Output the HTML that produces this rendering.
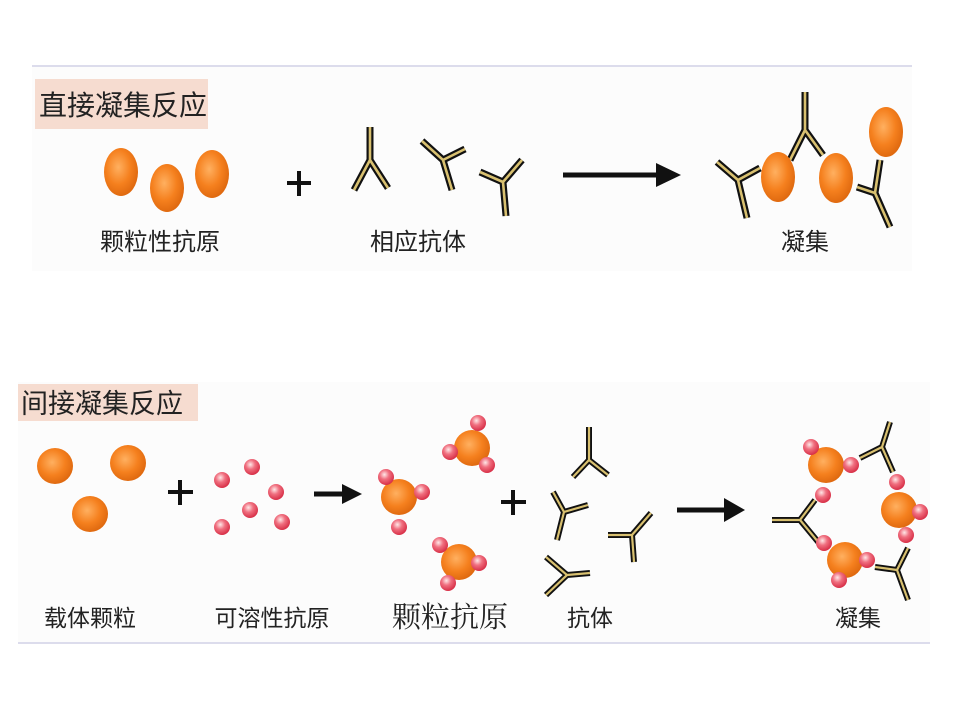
<!DOCTYPE html>
<html><head><meta charset="utf-8"><style>
html,body{margin:0;padding:0;background:#fff;}
svg{display:block;}
text{font-family:"Liberation Sans","Noto Sans CJK SC",sans-serif;fill:#222;}
.ab1{stroke:#111;stroke-width:7;fill:none;stroke-linejoin:miter;}
.ab2{stroke:#d8c070;stroke-width:2.6;fill:none;}
.sb1{stroke:#111;stroke-width:6;fill:none;}
.sb2{stroke:#d8c070;stroke-width:2.2;fill:none;}
</style></head><body>
<svg width="960" height="720" viewBox="0 0 960 720" xmlns="http://www.w3.org/2000/svg">
<defs>
<radialGradient id="og" cx="0.42" cy="0.4" r="0.6">
<stop offset="0" stop-color="#ffb060"/><stop offset="0.6" stop-color="#f5801e"/><stop offset="1" stop-color="#e06a10"/></radialGradient>
<radialGradient id="pg" cx="0.4" cy="0.35" r="0.65">
<stop offset="0" stop-color="#ffe8e8"/><stop offset="0.45" stop-color="#f07080"/><stop offset="1" stop-color="#d83048"/></radialGradient>
</defs>
<rect width="960" height="720" fill="#fff"/>
<!-- top panel -->
<rect x="32" y="66" width="880" height="205" fill="#fcfcfc"/>
<line x1="32" y1="66" x2="912" y2="66" stroke="#dcdcec" stroke-width="2"/>
<rect x="35" y="79" width="173" height="50" fill="#f6dcd0"/>
<text x="39" y="115" font-size="28">直接凝集反应</text>
<ellipse cx="121" cy="172" rx="17" ry="24" fill="url(#og)"/>
<ellipse cx="167" cy="188" rx="17" ry="24" fill="url(#og)"/>
<ellipse cx="212" cy="174" rx="17" ry="24" fill="url(#og)"/>
<text x="160" y="250" font-size="24" text-anchor="middle">颗粒性抗原</text>
<path d="M287,183 H311 M299,171 V196" stroke="#111" stroke-width="4"/>
<g id="tops">
<path class="ab1" d="M354,190 L370,160 L388,188 M370,160 L370,127"/>
<path class="ab2" d="M354,190 L370,160 L388,188 M370,160 L370,127"/>
<path class="ab1" d="M422,141 L443,160 L465,149 M443,160 L452,190"/>
<path class="ab2" d="M422,141 L443,160 L465,149 M443,160 L452,190"/>
<path class="ab1" d="M480,172 L503,182 L522,160 M503,182 L506,216"/>
<path class="ab2" d="M480,172 L503,182 L522,160 M503,182 L506,216"/>
<path class="ab1" d="M717,162 L738,180 L760,168 M738,180 L747,218"/>
<path class="ab2" d="M717,162 L738,180 L760,168 M738,180 L747,218"/>
<path class="ab1" d="M790,160 L805,130 L823,155 M805,130 L805,92"/>
<path class="ab2" d="M790,160 L805,130 L823,155 M805,130 L805,92"/>
<path class="ab1" d="M857,187 L875,193 L890,227 M875,193 L880,160"/>
<path class="ab2" d="M857,187 L875,193 L890,227 M875,193 L880,160"/>
</g>
<text x="418" y="250" font-size="24" text-anchor="middle">相应抗体</text>
<line x1="563" y1="175" x2="660" y2="175" stroke="#111" stroke-width="5"/>
<polygon points="656,163 681,175 656,187" fill="#111"/>
<ellipse cx="778" cy="177" rx="17" ry="25" fill="url(#og)"/>
<ellipse cx="836" cy="178" rx="17" ry="25" fill="url(#og)"/>
<ellipse cx="886" cy="132" rx="17" ry="25" fill="url(#og)"/>
<text x="805" y="250" font-size="24" text-anchor="middle">凝集</text>
<!-- bottom panel -->
<rect x="18" y="382" width="912" height="260" fill="#fcfcfc"/>
<line x1="18" y1="643" x2="930" y2="643" stroke="#dcdcec" stroke-width="2"/>
<rect x="18" y="384" width="180" height="37" fill="#f6dcd0"/>
<text x="21" y="413" font-size="27">间接凝集反应</text>
<circle cx="55" cy="466" r="18" fill="url(#og)"/>
<circle cx="128" cy="463" r="18" fill="url(#og)"/>
<circle cx="90" cy="514" r="18" fill="url(#og)"/>
<path d="M168,492 H193 M180,480 V505" stroke="#111" stroke-width="4"/>
<g fill="url(#pg)">
<circle cx="222" cy="480" r="8"/><circle cx="252" cy="467" r="8"/><circle cx="276" cy="492" r="8"/>
<circle cx="250" cy="510" r="8"/><circle cx="222" cy="527" r="8"/><circle cx="282" cy="522" r="8"/>
</g>
<line x1="314" y1="494" x2="345" y2="494" stroke="#111" stroke-width="5"/>
<polygon points="342,484 362,494 342,504" fill="#111"/>
<circle cx="399" cy="497" r="18" fill="url(#og)"/>
<circle cx="472" cy="448" r="18" fill="url(#og)"/>
<circle cx="459" cy="562" r="18" fill="url(#og)"/>
<g fill="url(#pg)">
<circle cx="386" cy="477" r="8"/><circle cx="422" cy="492" r="8"/><circle cx="399" cy="527" r="8"/>
<circle cx="478" cy="423" r="8"/><circle cx="450" cy="452" r="8"/><circle cx="487" cy="465" r="8"/>
<circle cx="440" cy="545" r="8"/><circle cx="479" cy="563" r="8"/><circle cx="448" cy="583" r="8"/>
</g>
<path d="M501,502 H526 M513,490 V515" stroke="#111" stroke-width="4"/>
<g>
<path class="sb1" d="M573,477 L589,460 L608,475 M589,460 L589,427"/>
<path class="sb2" d="M573,477 L589,460 L608,475 M589,460 L589,427"/>
<path class="sb1" d="M557,540 L564,512 L588,505 M564,512 L553,492"/>
<path class="sb2" d="M557,540 L564,512 L588,505 M564,512 L553,492"/>
<path class="sb1" d="M608,535 L632,535 L651,513 M632,535 L634,562"/>
<path class="sb2" d="M608,535 L632,535 L651,513 M632,535 L634,562"/>
<path class="sb1" d="M546,557 L567,575 L546,595 M567,575 L590,573"/>
<path class="sb2" d="M546,557 L567,575 L546,595 M567,575 L590,573"/>
<path class="sb1" d="M860,458 L882,447 L893,472 M882,447 L890,422"/>
<path class="sb2" d="M860,458 L882,447 L893,472 M882,447 L890,422"/>
<path class="sb1" d="M815,500 L800,520 L819,543 M800,520 L772,520"/>
<path class="sb2" d="M815,500 L800,520 L819,543 M800,520 L772,520"/>
<path class="sb1" d="M875,567 L897,570 L908,548 M897,570 L908,600"/>
<path class="sb2" d="M875,567 L897,570 L908,548 M897,570 L908,600"/>
</g>
<line x1="677" y1="510" x2="727" y2="510" stroke="#111" stroke-width="5"/>
<polygon points="724,498 745,510 724,522" fill="#111"/>
<circle cx="826" cy="465" r="18" fill="url(#og)"/>
<circle cx="899" cy="510" r="18" fill="url(#og)"/>
<circle cx="845" cy="560" r="18" fill="url(#og)"/>
<g fill="url(#pg)">
<circle cx="811" cy="447" r="8"/><circle cx="851" cy="465" r="8"/><circle cx="823" cy="495" r="8"/>
<circle cx="897" cy="482" r="8"/><circle cx="920" cy="512" r="8"/><circle cx="906" cy="535" r="8"/>
<circle cx="824" cy="543" r="8"/><circle cx="867" cy="560" r="8"/><circle cx="839" cy="580" r="8"/>
</g>
<text x="90" y="626" font-size="23" text-anchor="middle">载体颗粒</text>
<text x="272" y="626" font-size="23" text-anchor="middle">可溶性抗原</text>
<text x="450" y="627" font-size="29" text-anchor="middle" style="font-family:'Liberation Serif','Noto Serif CJK SC',serif">颗粒抗原</text>
<text x="590" y="626" font-size="23" text-anchor="middle">抗体</text>
<text x="858" y="626" font-size="23" text-anchor="middle">凝集</text>
</svg>
</body></html>
